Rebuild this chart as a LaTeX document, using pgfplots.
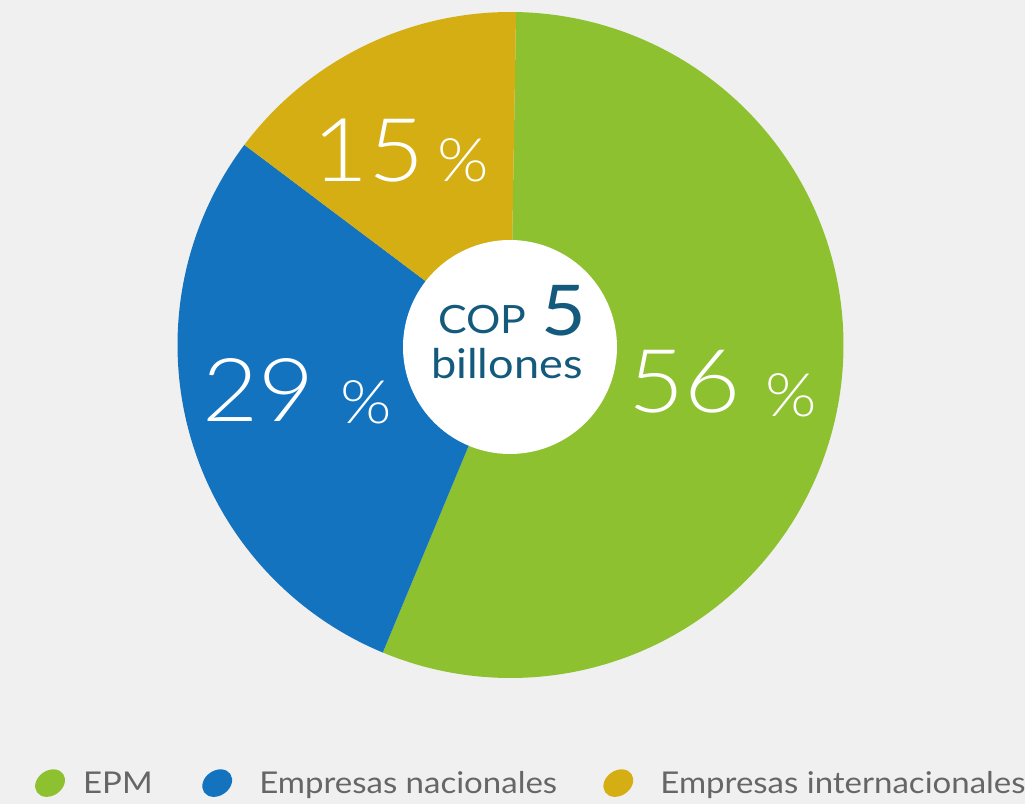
\documentclass[border=0pt]{standalone}
\usepackage{pgfplots}
\pgfplotsset{compat=1.18}
\usepackage{pgfplotstable}
\usepackage{fontspec}
\setmainfont[FakeStretch=1.1]{Lato}
\newfontfamily\lightfont[FakeStretch=1.1]{Lato Light}
\definecolor{bg}{HTML}{F0F0F0}
\definecolor{cgreen}{HTML}{8DC130}
\definecolor{cblue}{HTML}{1373BF}
\definecolor{cyellow}{HTML}{D4AE13}
\definecolor{cteal}{HTML}{145A7D}
\definecolor{legtext}{HTML}{666666}

\pgfplotstableread{
label value
EPM 56
Nacionales 29
Internacionales 15
}\shares

\begin{document}
\begin{tikzpicture}
\pgfplotstablegetelem{0}{value}\of\shares \let\vA\pgfplotsretval
\pgfplotstablegetelem{1}{value}\of\shares \let\vB\pgfplotsretval
\pgfplotstablegetelem{2}{value}\of\shares \let\vC\pgfplotsretval
\pgfmathsetmacro\aS{89.05}
\pgfmathsetmacro\aA{\aS-3.6*\vA}
\pgfmathsetmacro\aB{\aA-3.6*\vB}
\pgfmathsetmacro\aC{\aB-3.6*\vC}
\begin{axis}[
  scale only axis, width=1025pt, height=804pt,
  xmin=0, xmax=1025, ymin=0, ymax=804,
  hide axis, clip=false,
  legend columns=3,
  legend cell align=left,
  legend image code/.code={\fill[#1, rotate around={35:(15pt,0pt)}] (15pt,0pt) ellipse [x radius=16pt, y radius=12.5pt];},
  legend style={draw=none, fill=none, inner sep=0pt,
    at={(axis description cs:0.032,0.026)}, anchor=west,
    font=\fontsize{30}{30}\selectfont, text=legtext,
    /tikz/every even column/.append style={column sep=0pt}},
]
\addplot[fill=bg, draw=none, forget plot] coordinates {(0,0) (1025,0) (1025,804) (0,804)} -- cycle;
\addplot[fill=cgreen, draw=none, domain=\aA:\aS, samples=200] ({510.5+333*cos(x)},{459+333*sin(x)}) -- (axis cs:510.5,459) -- cycle;
\addlegendentry{\makebox[129pt][l]{\hspace{14pt}EPM}}
\addplot[fill=cblue, draw=none, domain=\aB:\aA, samples=120] ({510.5+333*cos(x)},{459+333*sin(x)}) -- (axis cs:510.5,459) -- cycle;
\addlegendentry{\makebox[363pt][l]{\hspace{23pt}Empresas nacionales}}
\addplot[fill=cyellow, draw=none, domain=\aC:\aB, samples=80] ({510.5+333*cos(x)},{459+333*sin(x)}) -- (axis cs:510.5,459) -- cycle;
\addlegendentry{\hspace{23pt}Empresas internacionales}
\addplot[fill=white, draw=none, domain=0:360, samples=150, forget plot] ({510+107*cos(x)},{457+107*sin(x)}) -- cycle;

\node[anchor=base west, text=white, font=\lightfont\fontsize{88}{88}\selectfont, inner sep=0pt] at (axis cs:628,391) {56};
\node[anchor=base west, text=white, font=\lightfont\fontsize{60}{60}\selectfont, inner sep=0pt] at (axis cs:765,387) {\%};
\node[anchor=base west, text=white, font=\lightfont\fontsize{88}{88}\selectfont, inner sep=0pt] at (axis cs:202,382) {29};
\node[anchor=base west, text=white, font=\lightfont\fontsize{60}{60}\selectfont, inner sep=0pt] at (axis cs:340,380) {\%};
\node[anchor=base west, text=white, font=\lightfont\fontsize{88}{88}\selectfont, inner sep=0pt] at (axis cs:312,622) {15};
\node[anchor=base west, text=white, font=\lightfont\fontsize{60}{60}\selectfont, inner sep=0pt] at (axis cs:437,622) {\%};

\node[anchor=base west, text=cteal, font=\fontsize{39}{39}\selectfont, inner sep=0pt] at (axis cs:438,470) {COP};
\node[anchor=base west, text=cteal, font=\fontsize{70}{70}\selectfont, inner sep=0pt] at (axis cs:541,468) {5};
\node[anchor=base west, text=cteal, font=\fontsize{41}{41}\selectfont, inner sep=0pt] at (axis cs:431,425) {billones};
\end{axis}
\pgfresetboundingbox
\path (current axis.south west) rectangle (current axis.north east);
\end{tikzpicture}
\end{document}
